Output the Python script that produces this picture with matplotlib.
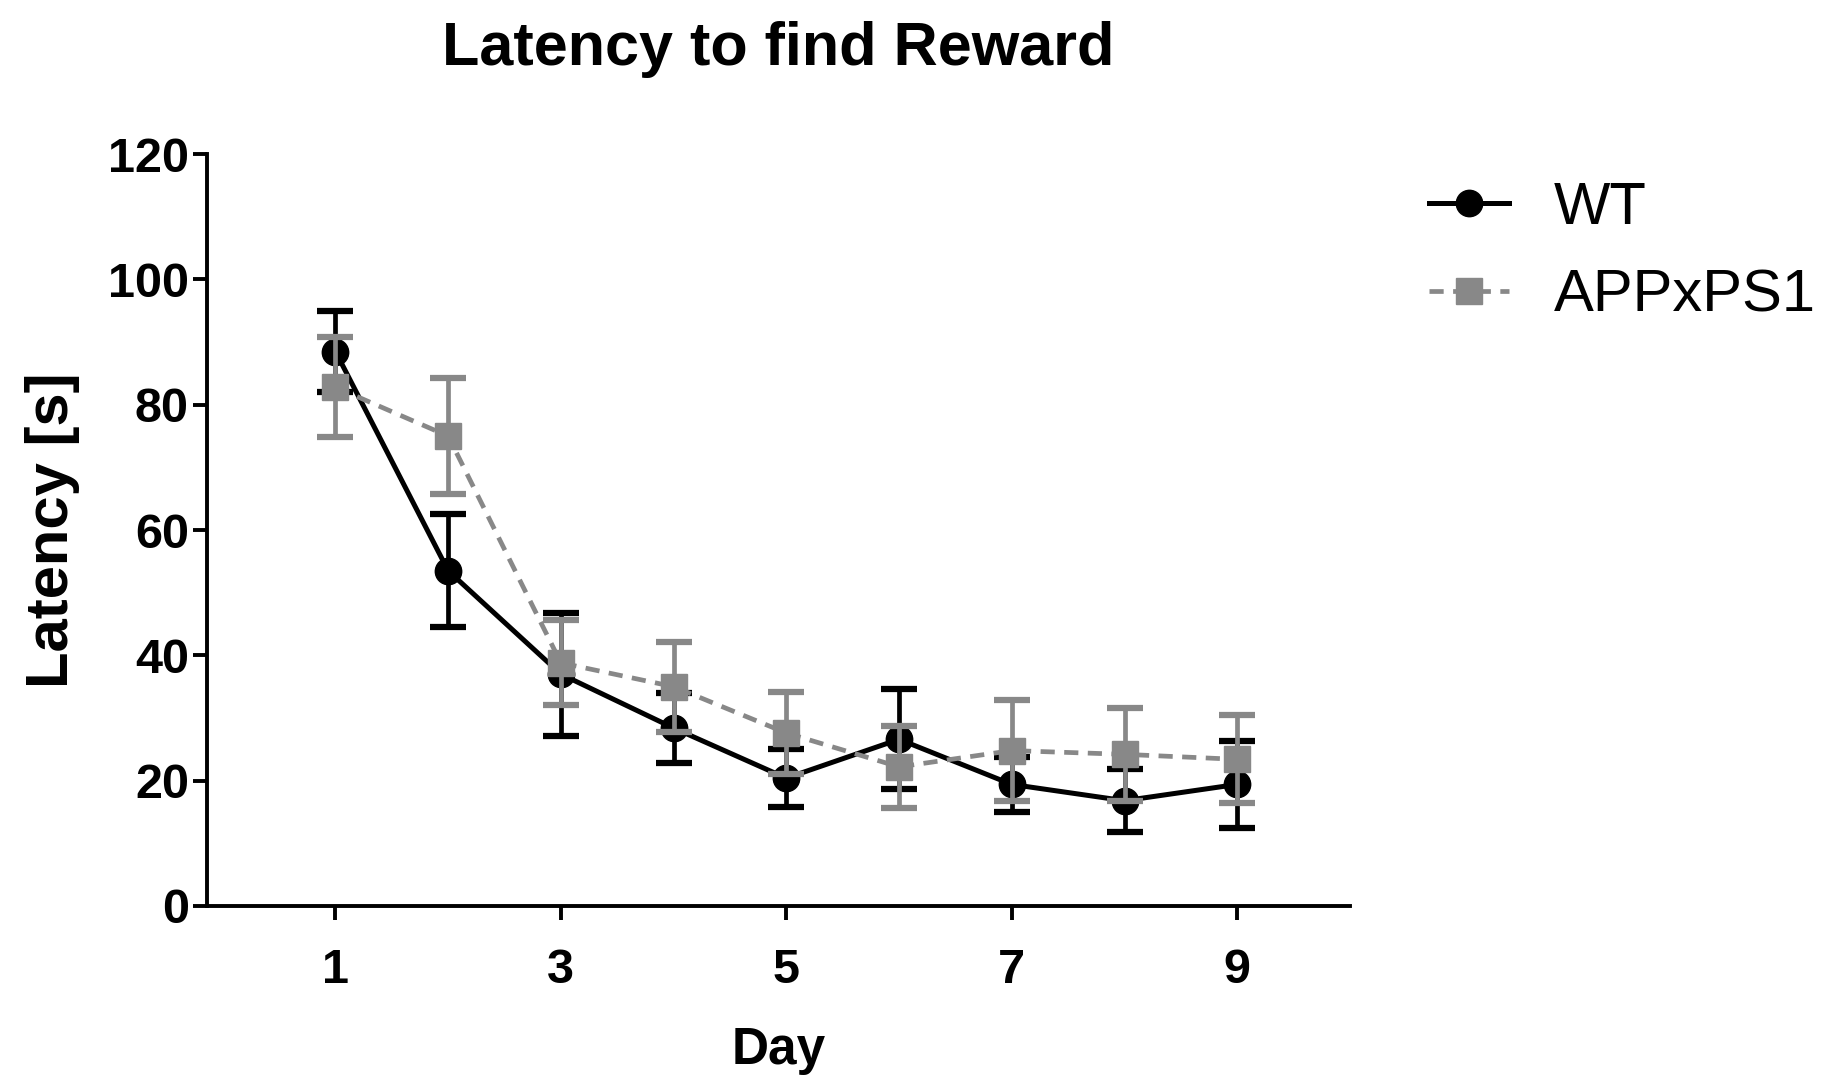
import numpy as np
import matplotlib.pyplot as plt
from matplotlib.lines import Line2D

plt.rcParams['font.family'] = ['Liberation Sans', 'DejaVu Sans']

days = [1, 2, 3, 4, 5, 6, 7, 8, 9]
wt_mean = [88.5, 53.5, 37.0, 28.4, 20.4, 26.6, 19.4, 16.8, 19.4]
wt_sem = [6.5, 9.0, 9.8, 5.6, 4.6, 8.0, 4.4, 5.0, 7.0]
app_mean = [82.8, 75.0, 38.8, 35.0, 27.6, 22.2, 24.8, 24.2, 23.4]
app_sem = [8.0, 9.2, 6.8, 7.2, 6.5, 6.6, 8.0, 7.4, 7.0]

gray = '#888888'
app_dash = (0, (3, 2))

fig = plt.figure(figsize=(18.25, 10.78), dpi=100)
ax = fig.add_axes([0.1134, 0.1596, 0.6263, 0.6974])

ax.errorbar(days, wt_mean, yerr=wt_sem, color='black', marker='o', markersize=19,
            linewidth=3.6, elinewidth=3.4, capsize=13, capthick=4.5, zorder=3)
ax.errorbar(days, app_mean, yerr=app_sem, color=gray, marker='s', markersize=19,
            linestyle=app_dash, linewidth=3.4, elinewidth=3.4, capsize=13, capthick=4.5,
            zorder=4)

ax.set_xlim(-0.14, 10)
ax.set_ylim(0, 120)
ax.set_xticks([1, 3, 5, 7, 9])
ax.set_yticks(np.arange(0, 121, 20))

for s in ['top', 'right']:
    ax.spines[s].set_visible(False)
for s in ['left', 'bottom']:
    ax.spines[s].set_linewidth(2.8)

ax.tick_params(axis='both', length=10, width=2.8, labelsize=35)
ax.tick_params(axis='x', pad=20)
ax.tick_params(axis='y', pad=3)
for lbl in ax.get_xticklabels() + ax.get_yticklabels():
    lbl.set_fontweight('bold')

ax.set_xlabel('Day', fontsize=37, fontweight='bold', labelpad=24)
ax.set_ylabel('Latency [s]', fontsize=43, fontweight='bold', labelpad=20)
ax.set_title('Latency to find Reward', fontsize=44, fontweight='bold', pad=64)

# legend shows line + marker only, no error bars
handles = [
    Line2D([], [], color='black', marker='o', markersize=19, linewidth=3.6),
    Line2D([], [], color=gray, marker='s', markersize=19, linewidth=3.4, linestyle=app_dash),
]
fig.legend(handles, ['WT', 'APPxPS1'], loc='upper left', bbox_to_anchor=(0.783, 0.832),
           frameon=False, fontsize=43, handlelength=1.34, handletextpad=0.75,
           labelspacing=0.55, borderpad=0, borderaxespad=0)

fig.savefig('out.png', dpi=100)
